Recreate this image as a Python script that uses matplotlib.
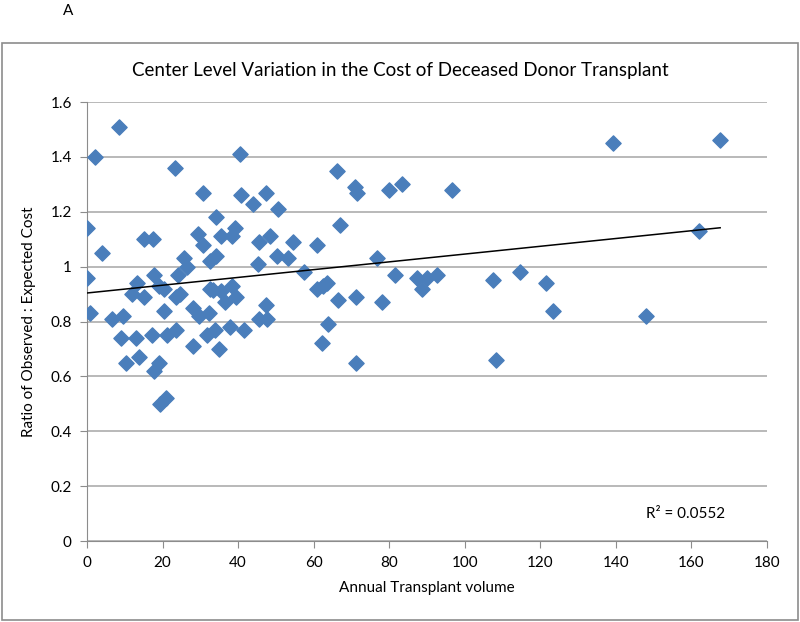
import numpy as np
import matplotlib
import matplotlib.pyplot as plt
from matplotlib.patches import Rectangle

matplotlib.use("Agg")
plt.rcParams['font.family'] = ['Lato', 'DejaVu Sans']

# annual transplant volume vs observed:expected cost ratio
volume = [8.5, 2.0, 23.3, 40.5, 30.7, 40.7, 44.0, 47.5, 50.6, 0.0,
          34.1, 15.0, 17.4, 29.3, 30.8, 35.6, 39.2, 38.3, 45.5, 48.5,
          50.2, 4.0, 25.8, 26.5, 34.1, 32.6, 45.3, 0.0, 17.8, 24.0,
          13.2, 19.0, 20.4, 12.0, 15.2, 23.6, 24.7, 32.5, 33.4, 35.5,
          38.3, 39.4, 36.5, 47.5, 28.1, 29.6, 32.3, 20.5, 0.8, 6.5,
          9.4, 45.6, 47.7, 9.1, 13.0, 17.3, 21.2, 23.6, 28.0, 31.7,
          33.9, 34.9, 37.9, 41.5, 10.2, 13.8, 19.1, 17.7, 20.9, 19.4,
          66.3, 70.9, 71.5, 80.0, 83.3, 96.5, 67.0, 54.5, 61.0, 53.2,
          76.7, 57.4, 81.5, 87.3, 90.1, 92.7, 88.6, 61.0, 62.5, 63.4,
          66.5, 71.3, 78.2, 63.7, 62.1, 71.2, 139.3, 167.6, 161.9, 107.6,
          114.6, 121.4, 123.4, 147.9, 108.2]
ratio = [1.51, 1.40, 1.36, 1.41, 1.27, 1.26, 1.23, 1.27, 1.21, 1.14,
         1.18, 1.10, 1.10, 1.12, 1.08, 1.11, 1.14, 1.11, 1.09, 1.11,
         1.04, 1.05, 1.03, 1.00, 1.04, 1.02, 1.01, 0.96, 0.97, 0.97,
         0.94, 0.93, 0.92, 0.90, 0.89, 0.89, 0.90, 0.92, 0.915, 0.91,
         0.93, 0.89, 0.87, 0.86, 0.85, 0.82, 0.83, 0.84, 0.83, 0.81,
         0.82, 0.81, 0.81, 0.74, 0.74, 0.75, 0.75, 0.77, 0.71, 0.75,
         0.77, 0.70, 0.78, 0.77, 0.65, 0.67, 0.65, 0.62, 0.52, 0.50,
         1.35, 1.29, 1.27, 1.28, 1.30, 1.28, 1.15, 1.09, 1.08, 1.03,
         1.03, 0.98, 0.97, 0.96, 0.96, 0.97, 0.92, 0.92, 0.93, 0.94,
         0.88, 0.89, 0.87, 0.79, 0.72, 0.65, 1.45, 1.46, 1.13, 0.95,
         0.98, 0.94, 0.84, 0.82, 0.66]
r2_label = "R² = 0.0552"

x = np.array(volume)
y = np.array(ratio)

fig = plt.figure(figsize=(8, 6.22), dpi=100)
ax = fig.add_axes([0.10875, 0.1302, 0.85, 0.7058])

# chart border
fig.patches.append(Rectangle((0.003, 0.003), 0.994, 0.928, transform=fig.transFigure,
                             fill=False, edgecolor='#8c8c8c', linewidth=1.2))
fig.text(0.085, 0.983, "A", fontsize=11, ha='center', va='center')
fig.text(0.5, 0.887, "Center Level Variation in the Cost of Deceased Donor Transplant",
         fontsize=13.5, ha='center', va='center')

ax.scatter(x, y, marker='D', s=60, color='#4a7ebb', edgecolors='#4a7ebb', zorder=3)

# linear trendline
slope, intercept = np.polyfit(x, y, 1)
xs = np.array([0, x.max()])
ax.plot(xs, slope * xs + intercept, color='black', linewidth=1.1, zorder=4)
ax.text(148, 0.1, r2_label, fontsize=11, va='center', ha='left')

ax.set_xlim(0, 180)
ax.set_ylim(0, 1.6)
ax.set_xticks(np.arange(0, 181, 20))
ax.set_yticks(np.arange(0, 1.61, 0.2))
ax.set_yticklabels(['0', '0.2', '0.4', '0.6', '0.8', '1', '1.2', '1.4', '1.6'])
ax.yaxis.grid(True, color='#a6a6a6', linewidth=1.1)
ax.set_axisbelow(True)
for s in ['top', 'right']:
    ax.spines[s].set_visible(False)
for s in ['left', 'bottom']:
    ax.spines[s].set_color('#8c8c8c')
ax.tick_params(direction='out', length=5, color='#8c8c8c', labelsize=11, pad=6)
ax.set_xlabel("Annual Transplant volume", fontsize=11, labelpad=8)
ax.set_ylabel("Ratio of Observed : Expected Cost", fontsize=11, labelpad=10)

fig.savefig("out.png", dpi=100)
